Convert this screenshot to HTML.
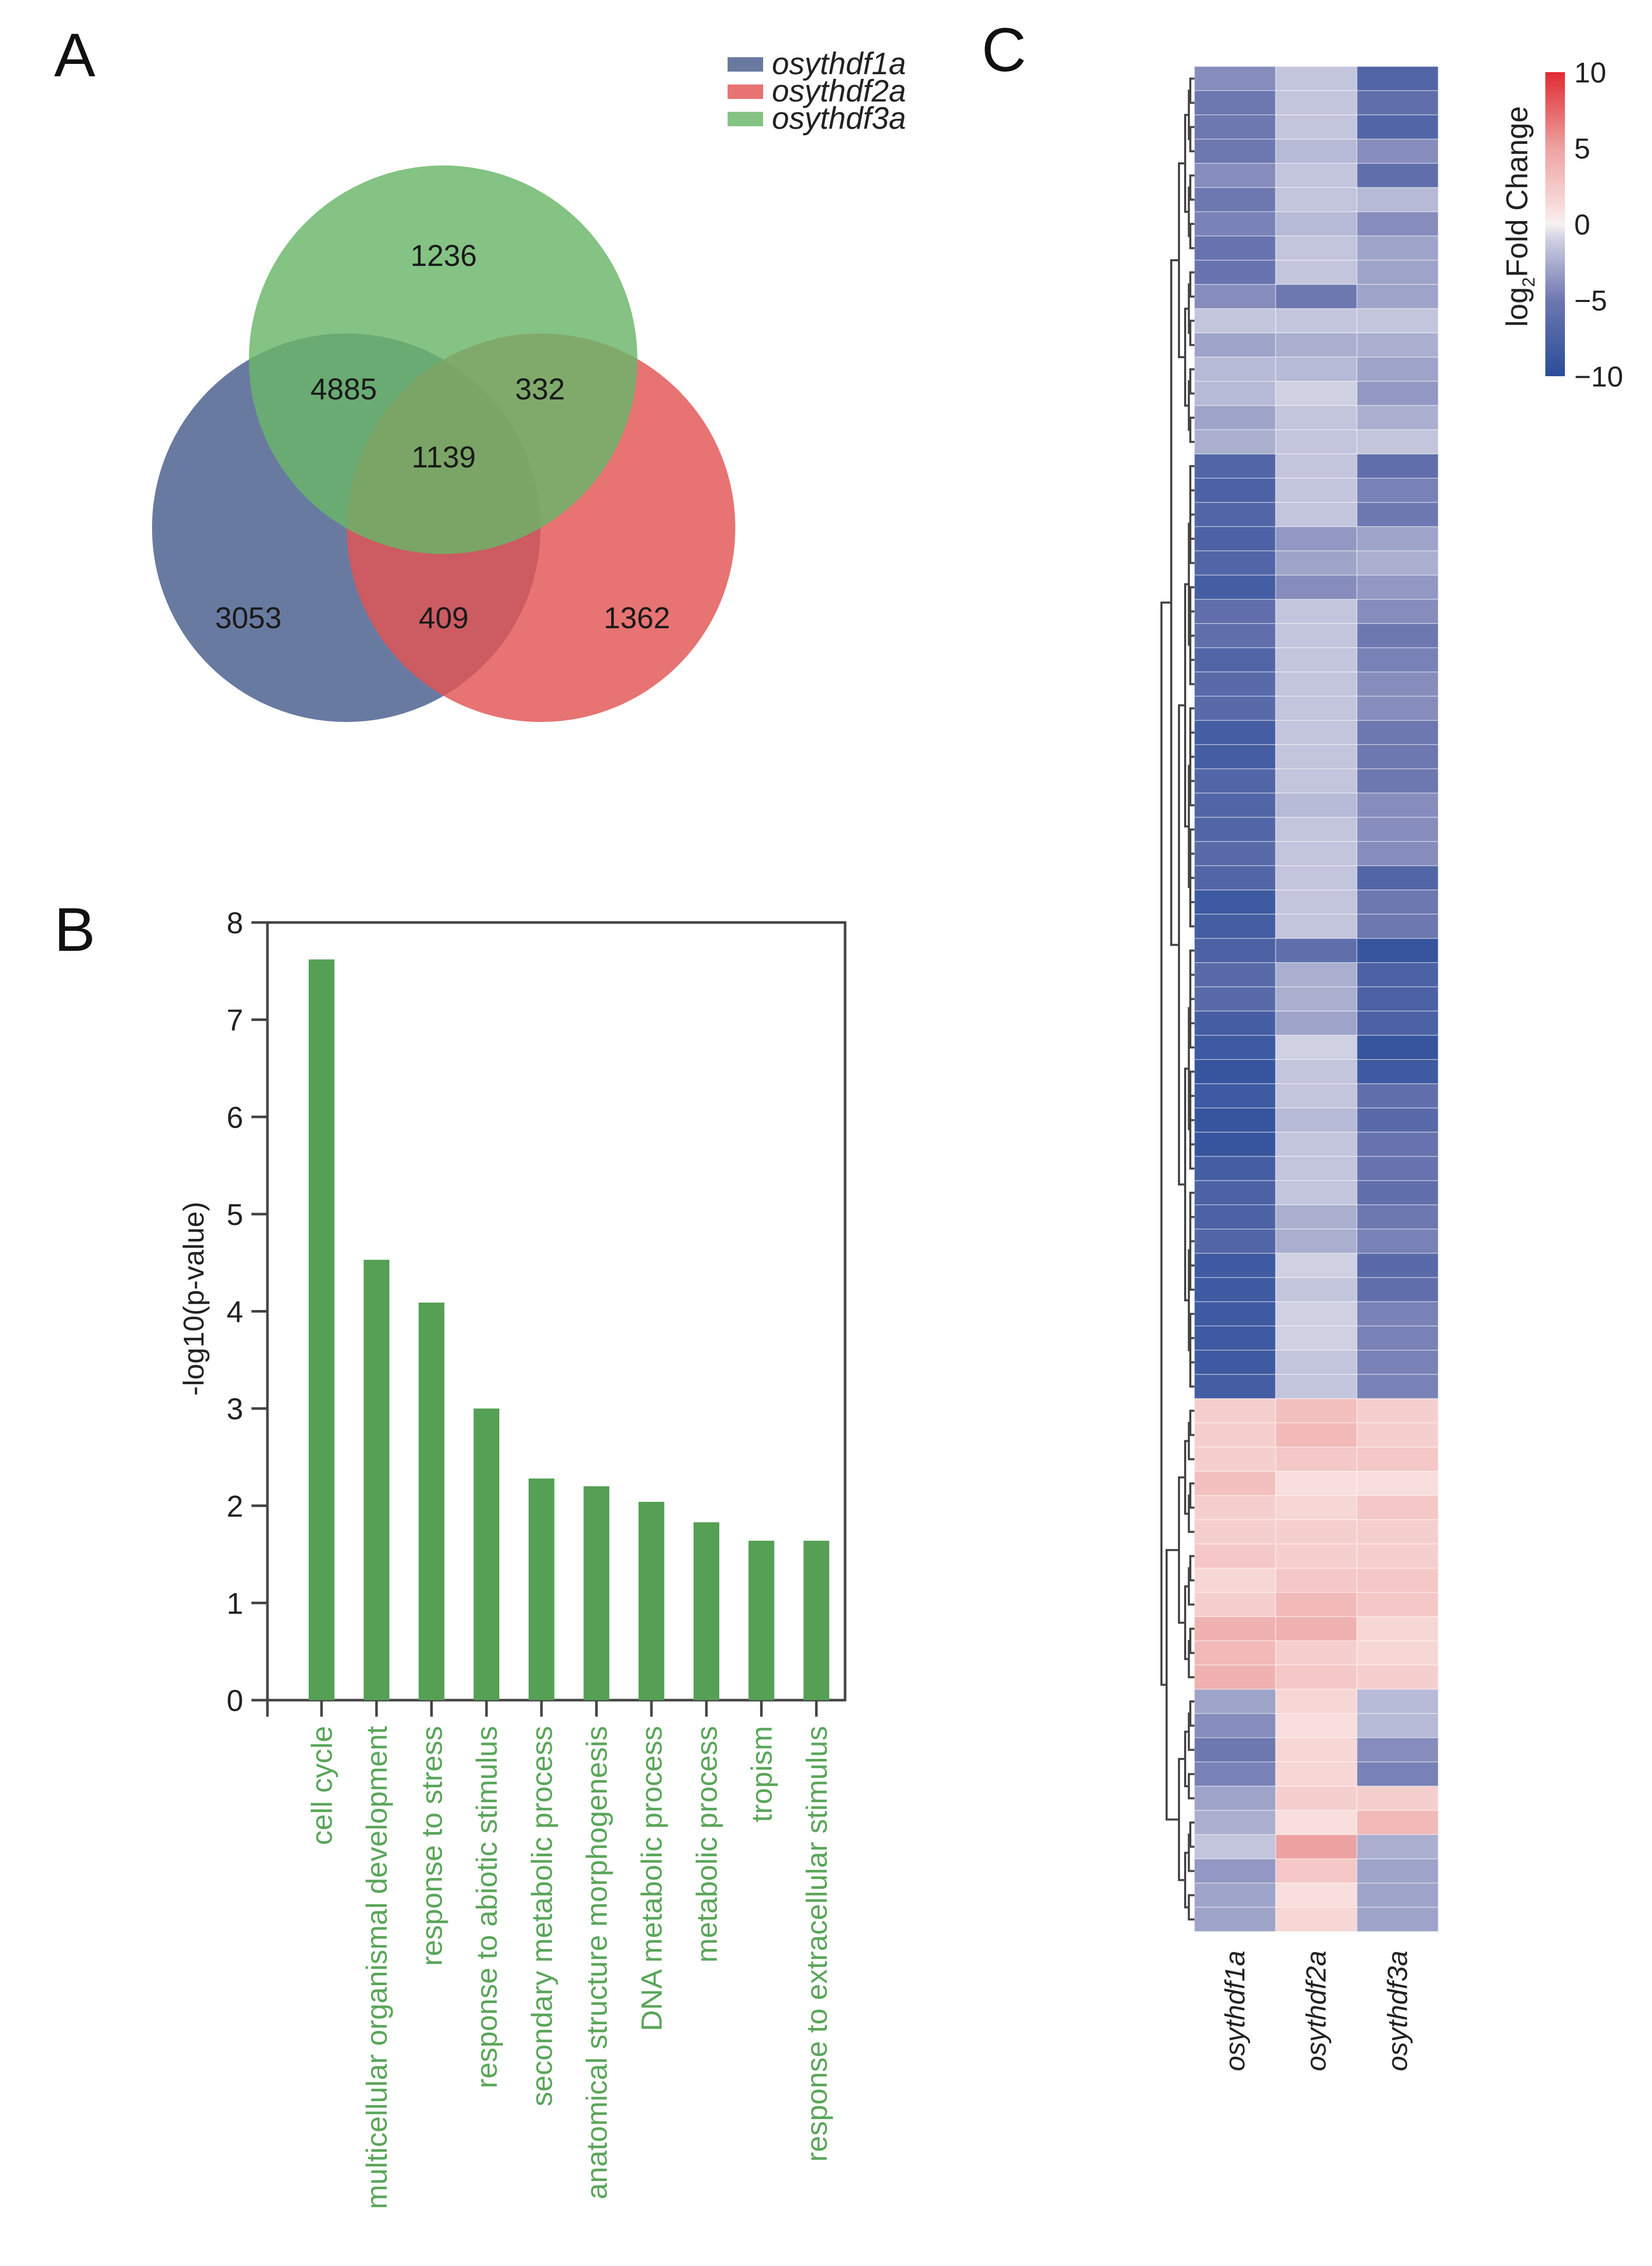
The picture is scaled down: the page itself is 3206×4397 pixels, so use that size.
<!DOCTYPE html>
<html><head><meta charset="utf-8"><style>
html,body{margin:0;padding:0;background:#fff;}
svg{display:block;font-family:"Liberation Sans",Arial,sans-serif;}
</style></head><body>
<svg id="fig" width="3206" height="4397" viewBox="0 0 3206 4397" xmlns="http://www.w3.org/2000/svg">
<rect width="3206" height="4397" fill="#fff"/>
<text x="105" y="148" font-size="120" fill="#111">A</text>
<text x="105" y="1845" font-size="120" fill="#111">B</text>
<text x="1905" y="138" font-size="120" fill="#111">C</text>
<g id="venn"></g>
<g id="bars"></g>
<g id="heat"></g>
</svg>
<script>
const NS="http://www.w3.org/2000/svg";
function mk(tag,attrs,parent,txt){const e=document.createElementNS(NS,tag);for(const k in attrs)e.setAttribute(k,attrs[k]);if(txt!==undefined)e.textContent=txt;parent.appendChild(e);return e;}

// ===== Venn data =====
const vennSets=["osythdf1a","osythdf2a","osythdf3a"];
const vennColors=["rgb(72,93,140)","rgb(226,84,84)","rgb(105,182,105)"];
const vennCounts=[3053,1362,1236,409,4885,332,1139];
const vennCountPos=[[482,1198],[1236,1198],[861,495],[861,1198],[667,754],[1048,754],[861,886]];
const venn=document.getElementById('venn');
const circ=[[672,1024],[1050,1024],[860,698]];
circ.forEach((c,i)=>{
  const e=mk('circle',{cx:c[0],cy:c[1],r:377,fill:vennColors[i],'fill-opacity':0.82},venn);
  
  
});
vennCounts.forEach((v,i)=>{
  const t=mk('text',{x:vennCountPos[i][0],y:vennCountPos[i][1]+21,'font-size':58,'text-anchor':'middle',fill:'#1a1a1a'},venn,String(v));
  
  
});
vennSets.forEach((s,i)=>{
  const y=125+i*53;
  const r=mk('rect',{x:1412,y:y-14,width:69,height:28,fill:vennColors[i],'fill-opacity':0.82},venn);
  
  
  const t=mk('text',{x:1498,y:y+19,'font-size':60,'font-style':'italic',fill:'#222'},venn,s);
  
  
});

// ===== Bar chart data =====
const goTerms=["cell cycle","multicellular organismal development","response to stress","response to abiotic stimulus","secondary metabolic process","anatomical structure morphogenesis","DNA metabolic process","metabolic process","tropism","response to extracellular stimulus"];
const goValues=[7.62,4.53,4.09,3.0,2.28,2.2,2.04,1.83,1.64,1.64];
const yTicks=[0,1,2,3,4,5,6,7,8];
const bars=document.getElementById('bars');
const bx0=519,bx1=1640,by0=3299,by1=1790,ymax=8;
const yS=v=>by0-(v/ymax)*(by0-by1);
const xS=i=>624+i*106.7;
const frame=mk('rect',{x:bx0,y:by1,width:bx1-bx0,height:by0-by1,fill:'none',stroke:'#444','stroke-width':5},bars);


goValues.forEach((v,i)=>{
  const r=mk('rect',{x:xS(i)-25,y:yS(v),width:50,height:by0-yS(v),fill:'#55a055'},bars);
  
  
  const tk=mk('line',{x1:xS(i),x2:xS(i),y1:by0,y2:by0+32,stroke:'#444','stroke-width':5},bars);
  
  
  const t=mk('text',{x:0,y:0,'font-size':57,fill:'#5aa55a','text-anchor':'end',transform:`translate(${xS(i)+20},${by0+50}) rotate(-90)`},bars,goTerms[i]);
  
  
});
const yext=mk('line',{x1:bx0,x2:bx0,y1:by0,y2:by0+32,stroke:'#444','stroke-width':5},bars);


yTicks.forEach(v=>{
  const l=mk('line',{x1:488,x2:bx0,y1:yS(v),y2:yS(v),stroke:'#444','stroke-width':5},bars);
  
  
  const t=mk('text',{x:472,y:yS(v)+21,'font-size':58,'text-anchor':'end',fill:'#222'},bars,String(v));
  
  
});
const yl=mk('text',{x:0,y:0,'font-size':56,'text-anchor':'middle',fill:'#222',transform:'translate(395,2520) rotate(-90)'},bars,'-log10(p-value)');



// ===== Heatmap data =====
const hmSamples=["osythdf1a","osythdf2a","osythdf3a"];
const hmCol1=[-4,-5,-5,-5,-4,-5,-4.5,-5.5,-5.5,-4,-1.5,-3,-2,-2,-3,-2.5,-7,-7.5,-7,-7.5,-7,-8,-6,-6,-7,-6.5,-6.5,-8,-8,-7,-7,-7,-6.5,-7,-8.5,-8,-7.5,-6.5,-6.5,-8,-8.5,-9,-8.5,-9,-9,-8,-7.5,-7.5,-7,-8.5,-8.5,-8.5,-8.5,-8.5,-8,2,2,2,3,2,2,2.5,1.5,2,4,3.5,4,-3,-4,-5,-4.5,-3,-2.5,-1.5,-3.5,-3,-3];
const hmCol2=[-1.5,-1.5,-1.5,-2,-1.5,-1.5,-2,-1.5,-1.5,-5,-1.5,-2.5,-2,-1,-1.5,-1.5,-1.5,-1.5,-1.5,-3.5,-3,-4,-1.5,-1.5,-1.5,-1.5,-1.5,-1.5,-1.5,-1.5,-2,-1.5,-1.5,-1.5,-1.5,-1.5,-6,-2.5,-2.5,-3,-1,-1.5,-1.5,-2,-1.5,-1.5,-1.5,-2.5,-2.5,-1,-1.5,-1,-1,-1.5,-1.5,3,3.5,2.5,1,1.5,2,2,2.5,3.5,4,2,2.5,1.5,1,1.5,1.5,2,1,5,2.5,1,1.5];
const hmCol3=[-7,-6,-7,-4,-6,-2,-4,-3,-3,-3,-1.5,-2.5,-3,-3.5,-2.5,-1.5,-6,-4.5,-5,-3,-2.5,-3.5,-4,-5,-4.5,-4,-4,-5,-5,-5,-4,-4,-4,-7,-5,-5,-9,-7.5,-7.5,-7.5,-9,-8.5,-6,-6.5,-5.5,-5.5,-6,-5,-4.5,-6.5,-6,-4.5,-4.5,-4.5,-4.5,2,2,2.5,1,2.5,2,2,2.5,2.5,1.5,1.5,2,-2,-2,-4,-4.5,2,3.5,-2.5,-3,-3,-3];
const cbTicks=[10,5,0,-5,-10];
const hm=document.getElementById('heat');
const hx0=2318,hw=157.7,hy0=129,rh=47.0;
const stops=[[-10,[42,77,154]],[-5,[109,119,176]],[-1,[207,208,226]],[0,[246,242,242]],[1,[248,222,220]],[5,[237,162,162]],[10,[224,42,48]]];
function cmap(v){v=Math.max(-10,Math.min(10,v));for(let i=0;i<stops.length-1;i++){const a=stops[i],b=stops[i+1];if(v<=b[0]){const t=(v-a[0])/(b[0]-a[0]);return 'rgb('+a[1].map((c,k)=>Math.round(c+(b[1][k]-c)*t)).join(',')+')';}}return 'rgb(224,42,48)';}
[hmCol1,hmCol2,hmCol3].forEach((col,j)=>{
  col.forEach((v,i)=>{
    const r=mk('rect',{x:hx0+j*hw,y:hy0+i*rh,width:hw,height:rh,fill:cmap(v),stroke:'rgba(255,255,255,0.35)','stroke-width':2},hm);
    
    
  });
  const t=mk('text',{x:0,y:0,'font-size':54,'font-style':'italic','text-anchor':'end',fill:'#222',transform:`translate(${hx0+(j+0.5)*hw+18},3785) rotate(-90)`},hm,hmSamples[j]);
  
  
});
// dendrogram
const dg=mk('g',{stroke:'#444','stroke-width':4,fill:'none'},hm);


function build(a,b,h){
  if(a===b)return [hy0+(a+0.5)*rh,hx0];
  const m=Math.floor((a+b)/2);
  const L=build(a,m,h*0.6),R=build(m+1,b,h*0.6);
  const x=hx0-Math.max(8,h);
  mk('path',{d:`M${L[1]},${L[0]}H${x}V${R[0]}H${R[1]}`},dg);
  return [(L[0]+R[0])/2,x];
}
function join(A,B,x){mk('path',{d:`M${A[1]},${A[0]}H${x}V${B[0]}H${B[1]}`},dg);return [(A[0]+B[0])/2,x];}
const c1=build(0,15,30),c2=build(16,54,30),c3=build(55,66,30),c4=build(67,76,30);
const blue=join(c1,c2,2273),rest=join(c3,c4,2264);
join(blue,rest,2254);
// colorbar
const cbx=2999,cbw=38,cby0=140,cby1=730;
const grad=mk('defs',{},hm);
const lg=mk('linearGradient',{id:'cbg',x1:0,y1:1,x2:0,y2:0},grad);
for(let v=-10;v<=10;v+=1){mk('stop',{offset:((v+10)/20),'stop-color':cmap(v)},lg);}
const cb=mk('rect',{x:cbx,y:cby0,width:cbw,height:cby1-cby0,fill:'url(#cbg)'},hm);


cbTicks.forEach(v=>{
  const y=cby1-(v+10)/20*(cby1-cby0);
  const t=mk('text',{x:3055,y:y+20,'font-size':56,fill:'#222'},hm,(v<0?'\u2212':'')+Math.abs(v));
  
  
});
const ct=mk('text',{x:0,y:0,'font-size':58,'text-anchor':'middle',fill:'#222',transform:'translate(2964,420) rotate(-90)'},hm);


mk('tspan',{},ct,'log');
mk('tspan',{'font-size':34,dy:14},ct,'2');
mk('tspan',{dy:-14},ct,'Fold Change');
</script>
</body></html>
